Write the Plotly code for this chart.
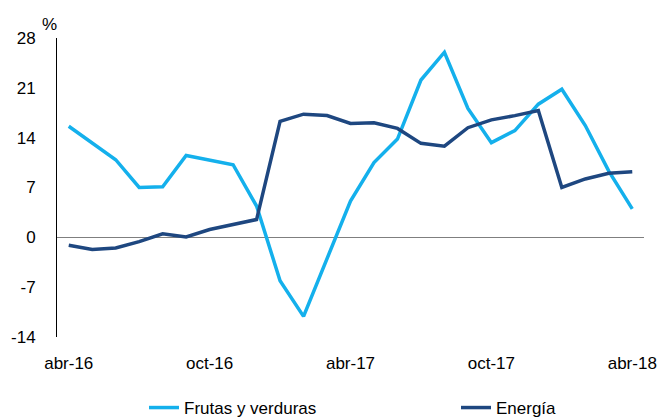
import plotly.graph_objects as go

months = ["abr-16","may-16","jun-16","jul-16","ago-16","sep-16","oct-16","nov-16","dic-16",
          "ene-17","feb-17","mar-17","abr-17","may-17","jun-17","jul-17","ago-17","sep-17",
          "oct-17","nov-17","dic-17","ene-18","feb-18","mar-18","abr-18"]
frutas = [15.6, 13.3, 10.9, 7.0, 7.1, 11.5, 10.8, 10.2, 4.4,
          -6.1, -11.1, -3.0, 5.1, 10.5, 13.8, 22.1, 26.0, 18.1,
          13.3, 15.0, 18.7, 20.8, 15.7, 9.3, 4.0]
energia = [-1.1, -1.7, -1.5, -0.6, 0.5, 0.05, 1.1, 1.8, 2.5,
           16.3, 17.3, 17.1, 16.0, 16.1, 15.3, 13.2, 12.8, 15.4,
           16.5, 17.1, 17.8, 7.0, 8.2, 9.0, 9.2]
tick_labels = ["abr-16", "oct-16", "abr-17", "oct-17", "abr-18"]
y_ticks = [-14, -7, 0, 7, 14, 21, 28]

FONT = "Liberation Sans, Arial, sans-serif"
FS = 17
x = list(range(len(months)))

fig = go.Figure()
fig.add_trace(go.Scatter(x=x, y=frutas, mode="lines", name="Frutas y verduras",
                         line=dict(color="#14B0EC", width=3.5), customdata=months,
                         legend="legend",
                         hovertemplate="%{customdata}: %{y}<extra></extra>"))
fig.add_trace(go.Scatter(x=x, y=energia, mode="lines", name="Energía",
                         line=dict(color="#1E4780", width=3.5), customdata=months,
                         legend="legend2",
                         hovertemplate="%{customdata}: %{y}<extra></extra>"))

tickvals = [months.index(t) for t in tick_labels]

leg_common = dict(orientation="h", xref="container", yref="container",
                  xanchor="left", yanchor="middle", y=12/420,
                  bgcolor="rgba(0,0,0,0)",
                  font=dict(family=FONT, size=FS, color="#000000"))

fig.update_layout(
    width=661, height=420,
    margin=dict(l=57, r=17, t=38, b=83),
    paper_bgcolor="white", plot_bgcolor="white",
    font=dict(family=FONT, size=FS, color="#000000"),
    showlegend=True,
    legend=dict(leg_common, x=144/661),
    legend2=dict(leg_common, x=456/661),
    xaxis=dict(range=[-0.5, 24.5], tickvals=tickvals, ticktext=tick_labels,
               showgrid=False, zeroline=False, showline=False, automargin=False,
               ticks="outside", ticklen=11, tickcolor="rgba(0,0,0,0)"),
    yaxis=dict(range=[-14, 28], tickvals=y_ticks, ticktext=[str(v) for v in y_ticks],
               showgrid=False, automargin=False,
               zeroline=True, zerolinecolor="#7f7f7f", zerolinewidth=1.2,
               showline=True, linecolor="#000000", linewidth=1,
               ticks="outside", ticklen=17, tickcolor="rgba(0,0,0,0)"),
    annotations=[dict(text="%", xref="paper", yref="paper", x=-0.012, y=1.0,
                      xanchor="center", yanchor="bottom", yshift=2, showarrow=False,
                      font=dict(family=FONT, size=FS, color="#000000"))],
)

fig.write_html("out.html", config={"displayModeBar": False},
               post_script="document.body.style.margin='0';")
